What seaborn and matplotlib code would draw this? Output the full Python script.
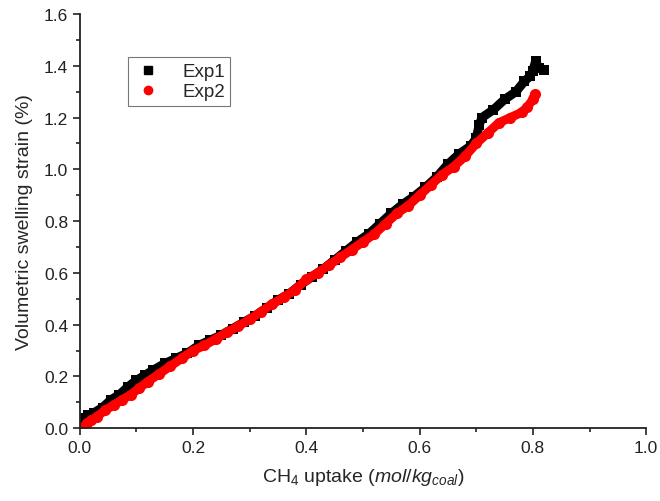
import seaborn as sns
import matplotlib.pyplot as plt
from matplotlib.ticker import MultipleLocator, FormatStrFormatter

# Exp1 - black squares
exp1_uptake = [0.003, 0.008, 0.015, 0.025, 0.04, 0.055, 0.07, 0.085, 0.10, 0.115,
               0.13, 0.15, 0.17, 0.19, 0.21, 0.23, 0.25, 0.27, 0.29, 0.31,
               0.33, 0.35, 0.37, 0.39, 0.41, 0.43, 0.45, 0.47, 0.49, 0.51,
               0.53, 0.55, 0.57, 0.59, 0.61, 0.63, 0.65, 0.67, 0.69, 0.70,
               0.705, 0.71, 0.73, 0.75, 0.77, 0.785, 0.795, 0.80, 0.805, 0.81, 0.82]
exp1_strain = [0.02, 0.04, 0.05, 0.06, 0.08, 0.11, 0.13, 0.16, 0.185, 0.205,
               0.225, 0.25, 0.27, 0.29, 0.32, 0.34, 0.36, 0.385, 0.41, 0.435,
               0.465, 0.495, 0.52, 0.555, 0.585, 0.615, 0.65, 0.685, 0.72, 0.75,
               0.79, 0.83, 0.865, 0.895, 0.93, 0.97, 1.02, 1.06, 1.09, 1.12,
               1.17, 1.20, 1.23, 1.27, 1.30, 1.34, 1.36, 1.38, 1.42, 1.39, 1.385]

# Exp2 - red circles
exp2_uptake = [0.005, 0.012, 0.02, 0.03, 0.045, 0.06, 0.075, 0.09, 0.105, 0.12,
               0.14, 0.16, 0.18, 0.20, 0.22, 0.24, 0.26, 0.28, 0.30, 0.32,
               0.34, 0.36, 0.38, 0.40, 0.42, 0.44, 0.46, 0.48, 0.50, 0.52,
               0.54, 0.56, 0.58, 0.60, 0.62, 0.64, 0.66, 0.68, 0.70, 0.72,
               0.74, 0.76, 0.78, 0.79, 0.80, 0.803]
exp2_strain = [0.00, 0.02, 0.03, 0.045, 0.07, 0.09, 0.11, 0.13, 0.155, 0.18,
               0.21, 0.24, 0.27, 0.30, 0.32, 0.345, 0.37, 0.395, 0.42, 0.45,
               0.48, 0.505, 0.535, 0.575, 0.60, 0.63, 0.66, 0.69, 0.72, 0.75,
               0.79, 0.83, 0.86, 0.90, 0.94, 0.98, 1.01, 1.05, 1.10, 1.14,
               1.18, 1.20, 1.22, 1.24, 1.27, 1.29]

sns.set_style("ticks")
plt.rcParams['font.family'] = ['Liberation Sans', 'DejaVu Sans']
plt.rcParams['mathtext.fontset'] = 'custom'
plt.rcParams['mathtext.rm'] = 'Liberation Sans'
plt.rcParams['mathtext.it'] = 'Liberation Sans:italic'

fig = plt.figure(figsize=(6.6, 5.02), dpi=100)
ax = fig.add_axes([0.121, 0.145, 0.858, 0.825])

# thick band + markers to mimic the dense point cloud
sns.lineplot(x=exp1_uptake, y=exp1_strain, color='black', linewidth=6.5,
             marker='s', markersize=7.5, markeredgewidth=0, sort=False, ax=ax)
sns.lineplot(x=exp2_uptake, y=exp2_strain, color='red', linewidth=6.5,
             marker='o', markersize=8, markeredgewidth=0, sort=False, ax=ax)

# legend handles (markers only)
ax.plot([], [], 's', color='black', markersize=5.5, label='Exp1')
ax.plot([], [], 'o', color='red', markersize=6, label='Exp2')
leg = ax.legend(loc='upper left', bbox_to_anchor=(0.068, 0.918), fontsize=13.5,
                frameon=True, fancybox=False, handletextpad=1.0,
                borderpad=0.3, labelspacing=0.15, handlelength=1.6)
leg.get_frame().set_edgecolor('#555555')
leg.get_frame().set_linewidth(0.8)

ax.set_xlim(0, 1.0)
ax.set_ylim(0, 1.6)
ax.xaxis.set_major_locator(MultipleLocator(0.2))
ax.xaxis.set_minor_locator(MultipleLocator(0.1))
ax.yaxis.set_major_locator(MultipleLocator(0.2))
ax.yaxis.set_minor_locator(MultipleLocator(0.1))
ax.xaxis.set_major_formatter(FormatStrFormatter('%.1f'))
ax.yaxis.set_major_formatter(FormatStrFormatter('%.1f'))
ax.tick_params(which='major', direction='out', length=5, width=1.2, labelsize=12.5, colors='#222222')
ax.tick_params(which='minor', direction='out', length=3, width=1.2, colors='#222222')

sns.despine(ax=ax)
for side in ['left', 'bottom']:
    ax.spines[side].set_linewidth(1.3)
    ax.spines[side].set_color('#222222')

ax.set_xlabel(r'CH$_4$ uptake ($mol/kg_{coal}$)', fontsize=14, labelpad=8)
ax.set_ylabel('Volumetric swelling strain (%)', fontsize=14, labelpad=8)

fig.savefig('out.png', dpi=100)
